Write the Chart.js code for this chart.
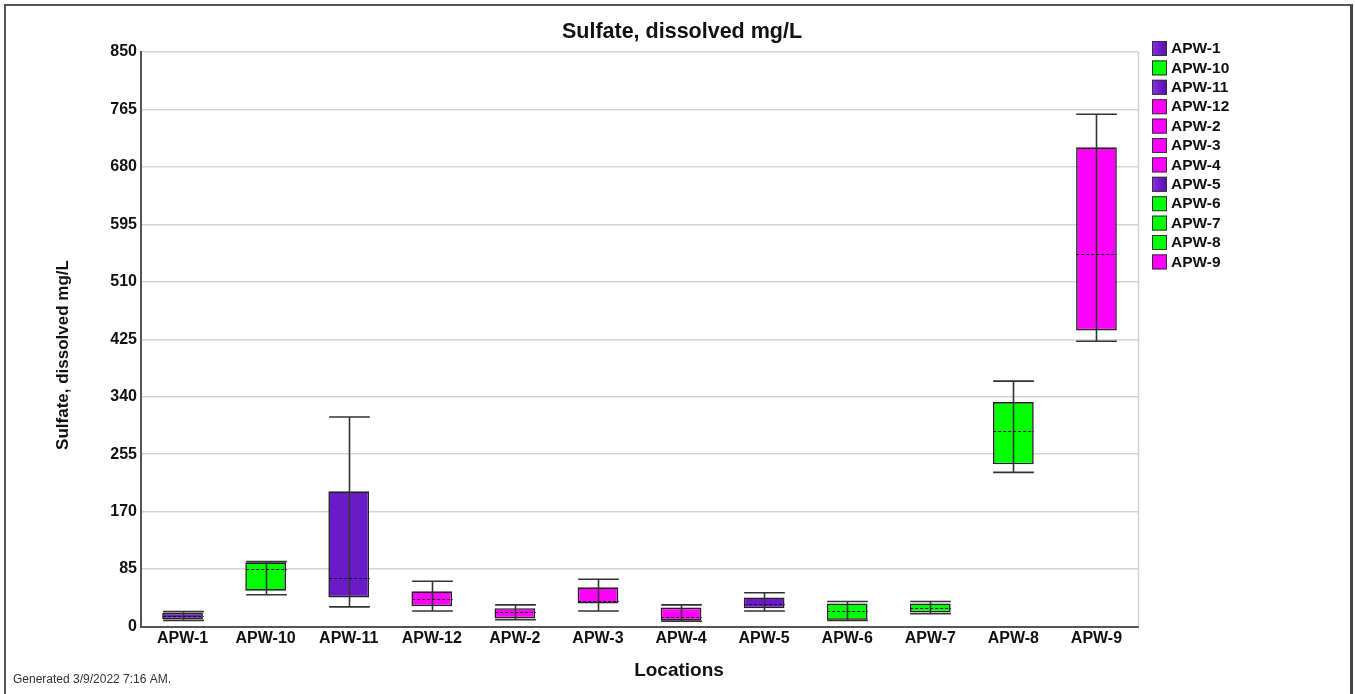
<!DOCTYPE html>
<html>
<head>
<meta charset="utf-8">
<title>Sulfate, dissolved mg/L</title>
<script src="https://cdn.jsdelivr.net/npm/chart.js@4"></script>
<style>
  html, body { margin: 0; padding: 0; background: #fff; overflow: hidden; }
  #frame {
    position: absolute; left: 4px; top: 4px; width: 1344px; height: 720px;
    border-left: 2px solid #555; border-top: 2px solid #555; border-right: 3px solid #444;
  }
  #wrap { position: absolute; left: 0; top: 0; width: 1355px; height: 694px; }
</style>
</head>
<body>
<div id="frame"></div>
<div id="wrap"><canvas id="chart" width="1355" height="694"></canvas></div>
<script>
// Sampling locations and their sulfate box-plot statistics (mg/L)
const locations   = ['APW-1', 'APW-10', 'APW-11', 'APW-12', 'APW-2', 'APW-3', 'APW-4', 'APW-5', 'APW-6', 'APW-7', 'APW-8', 'APW-9'];
const whiskerLow  = [9, 47, 29, 23, 10, 23, 8, 23, 9, 19, 228, 422];
const quartile1   = [11, 53, 43, 30, 12, 34, 9, 27, 10, 21, 240, 438];
const medians     = [15, 85, 72, 40, 21, 37, 14, 34, 23, 27, 289, 551];
const quartile3   = [20, 95, 200, 52, 27, 58, 28, 43, 34, 34, 332, 709];
const whiskerHigh = [22, 96, 310, 67, 32, 70, 32, 50, 37, 37, 363, 758];
// Well group of each location
const groups      = ['purple', 'green', 'purple', 'magenta', 'magenta', 'magenta', 'magenta', 'purple', 'green', 'green', 'green', 'magenta'];
const yTicks      = [0, 85, 170, 255, 340, 425, 510, 595, 680, 765, 850];

const chartTitle = 'Sulfate, dissolved mg/L';
const yTitle = 'Sulfate, dissolved mg/L';
const xTitle = 'Locations';
const footer = 'Generated 3/9/2022 7:16 AM.';

function groupFill(ctx, group, x0, x1) {
  if (group === 'green') return '#00ff00';
  if (group === 'magenta') return '#ff00ff';
  if (!Number.isFinite(x0) || !Number.isFinite(x1)) return '#6a1ac8';
  const g = ctx.createLinearGradient(x0, 0, x1, 0);
  g.addColorStop(0, '#8a2ee6');
  g.addColorStop(1, '#560cab');
  return g;
}

// Whiskers, caps and dashed medians on top of each box
const whiskerPlugin = {
  id: 'whiskers',
  beforeDatasetsDraw(chart) {
    const { ctx, chartArea } = chart;
    ctx.save();
    ctx.strokeStyle = '#d0d0d0';
    ctx.lineWidth = 1.5;
    ctx.beginPath();
    ctx.moveTo(chartArea.right + 0.5, chartArea.top);
    ctx.lineTo(chartArea.right + 0.5, chartArea.bottom);
    ctx.stroke();
    ctx.restore();
  },
  afterDatasetsDraw(chart) {
    const { ctx } = chart;
    const y = chart.scales.y;
    const meta = chart.getDatasetMeta(0);
    ctx.save();
    meta.data.forEach((bar, i) => {
      const cx = Math.round(bar.x) + 0.5;
      const half = bar.width / 2;
      const yLo = y.getPixelForValue(whiskerLow[i]);
      const yHi = y.getPixelForValue(whiskerHigh[i]);
      const yMed = y.getPixelForValue(medians[i]);
      ctx.strokeStyle = '#333';
      ctx.lineWidth = 1.6;
      ctx.setLineDash([]);
      ctx.beginPath();
      ctx.moveTo(cx, yHi); ctx.lineTo(cx, yLo);
      ctx.moveTo(cx - half, yHi); ctx.lineTo(cx + half, yHi);
      ctx.moveTo(cx - half, yLo); ctx.lineTo(cx + half, yLo);
      ctx.stroke();
      ctx.strokeStyle = '#111';
      ctx.lineWidth = 1;
      ctx.setLineDash([3, 2]);
      ctx.beginPath();
      ctx.moveTo(cx - half, Math.round(yMed) + 0.5);
      ctx.lineTo(cx + half, Math.round(yMed) + 0.5);
      ctx.stroke();
    });
    ctx.restore();
  },
  afterDraw(chart) {
    const { ctx } = chart;
    ctx.save();
    ctx.fillStyle = '#111';
    ctx.textAlign = 'center';
    ctx.textBaseline = 'middle';
    ctx.font = 'bold 21.5px "Liberation Sans", Arial, sans-serif';
    ctx.fillText(chartTitle, 682, 32);
    ctx.font = 'bold 19px "Liberation Sans", Arial, sans-serif';
    ctx.fillText(xTitle, 679, 671);
    ctx.save();
    ctx.translate(63, 355);
    ctx.rotate(-Math.PI / 2);
    ctx.font = 'bold 17px "Liberation Sans", Arial, sans-serif';
    ctx.fillText(yTitle, 0, 0);
    ctx.restore();
    ctx.textAlign = 'left';
    ctx.font = '12px "Liberation Sans", Arial, sans-serif';
    ctx.fillStyle = '#333';
    ctx.fillText(footer, 13, 680);

    // Legend: one entry per location
    ctx.font = 'bold 15.5px "Liberation Sans", Arial, sans-serif';
    locations.forEach((name, i) => {
      const top = 41 + i * 19.4;
      ctx.fillStyle = groupFill(ctx, groups[i], 1152, 1167);
      ctx.fillRect(1152, top, 15, 15);
      ctx.strokeStyle = '#333';
      ctx.lineWidth = 1;
      ctx.strokeRect(1152.5, top + 0.5, 14, 14);
      ctx.fillStyle = '#111';
      ctx.fillText(name, 1171, top + 8);
    });
    ctx.restore();
  }
};

new Chart(document.getElementById('chart'), {
  type: 'bar',
  data: {
    labels: locations,
    datasets: [{
      label: chartTitle,
      data: locations.map((_, i) => [quartile1[i], quartile3[i]]),
      backgroundColor: (c) => {
        const el = c.element;
        if (!el || c.type !== 'data') return '#6a1ac8';
        return groupFill(c.chart.ctx, groups[c.dataIndex], el.x - el.width / 2, el.x + el.width / 2);
      },
      borderColor: '#222',
      borderWidth: 1.6,
      borderSkipped: false,
      barPercentage: 0.49,
      categoryPercentage: 1
    }]
  },
  options: {
    responsive: false,
    animation: false,
    events: [],
    layout: { padding: { left: 0, top: 52, right: 217, bottom: 37.5 } },
    plugins: { legend: { display: false }, title: { display: false }, tooltip: { enabled: false } },
    scales: {
      x: {
        offset: true,
        grid: { display: false, drawTicks: false },
        border: { display: true, color: '#555', width: 2 },
        ticks: { color: '#111', font: { family: '"Liberation Sans", Arial, sans-serif', size: 16, weight: 'bold' }, padding: 2, maxRotation: 0 },
        afterFit(s) { s.height = 30; }
      },
      y: {
        min: 0, max: 850,
        afterBuildTicks(s) { s.ticks = yTicks.map(v => ({ value: v })); },
        grid: { color: '#d4d4d4', lineWidth: 1.5, drawTicks: false },
        border: { display: true, color: '#555', width: 2 },
        ticks: { color: '#111', font: { family: '"Liberation Sans", Arial, sans-serif', size: 16, weight: 'bold' }, padding: 4 },
        afterFit(s) { s.width = 141; }
      }
    }
  },
  plugins: [whiskerPlugin]
});
</script>
</body>
</html>
